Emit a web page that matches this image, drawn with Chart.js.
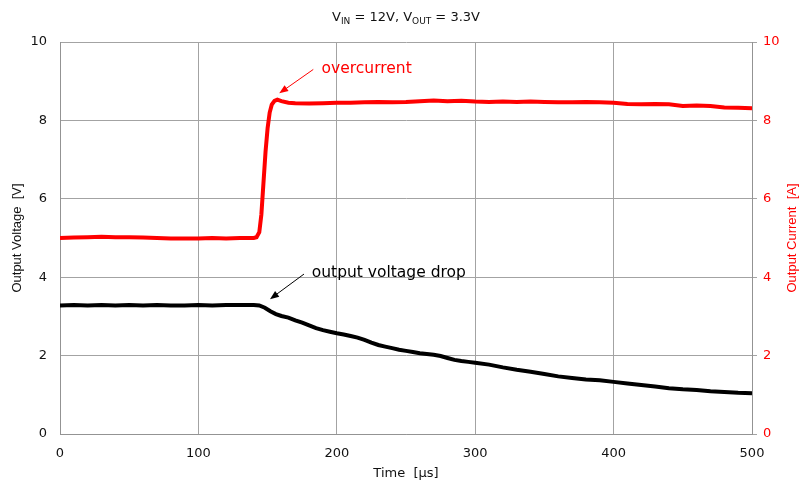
<!DOCTYPE html>
<html><head><meta charset="utf-8">
<script src="https://cdn.jsdelivr.net/npm/chart.js@4"></script>
<style>html,body{margin:0;padding:0;background:#fff}#wrap{width:799px;height:481px;position:relative}</style>
</head><body><div id="wrap"><canvas id="c"></canvas></div>
<script>
// ---- data ----
const timeV = [0,10,20,30,40,50,60,70,80,90,100,110,120,130,140,144,148,152,156,160,165,170,175,180,185,190,195,200,205,210,215,220,225,230,235,240,245,250,255,260,265,270,275,280,285,290,295,300,310,320,330,340,350,360,370,380,390,400,410,420,430,440,450,460,470,480,490,500];
const voltage = [3.28,3.29,3.28,3.29,3.28,3.29,3.28,3.29,3.28,3.28,3.29,3.28,3.29,3.29,3.29,3.28,3.22,3.13,3.06,3.01,2.97,2.90,2.84,2.77,2.70,2.65,2.61,2.57,2.54,2.50,2.46,2.40,2.33,2.27,2.23,2.19,2.15,2.12,2.09,2.06,2.04,2.02,1.99,1.94,1.89,1.86,1.84,1.82,1.77,1.70,1.64,1.59,1.53,1.47,1.43,1.39,1.37,1.33,1.29,1.25,1.21,1.17,1.14,1.12,1.09,1.07,1.05,1.04];
const timeI = [0,10,20,30,40,50,60,70,80,90,100,110,120,130,140,142,144,145.5,147,148.5,150,151.5,153,155,157,160,165,170,180,190,200,210,220,230,240,250,260,270,280,290,300,310,320,330,340,350,360,370,380,390,400,410,420,430,440,450,460,470,480,490,500];
const current = [5.00,5.01,5.02,5.03,5.02,5.02,5.01,5.00,4.99,4.99,4.99,5.00,4.99,5.00,5.00,5.02,5.15,5.6,6.4,7.2,7.8,8.2,8.4,8.5,8.53,8.49,8.45,8.44,8.43,8.44,8.45,8.45,8.46,8.47,8.46,8.47,8.49,8.51,8.49,8.50,8.48,8.47,8.48,8.47,8.48,8.47,8.46,8.46,8.47,8.46,8.45,8.42,8.41,8.42,8.41,8.37,8.38,8.37,8.33,8.32,8.31];
const xTicks = [0,100,200,300,400,500];
const yTicks = [0,2,4,6,8,10];
const titleParts = [["V",false],["IN",true],[" = 12V, V",false],["OUT",true],[" = 3.3V",false]];
const xLabel = "Time  [\u00b5s]";
const yLabel = "Output Voltage  [V]";
const y2Label = "Output Current  [A]";
// annotation anchors in data units
const notes = [
  {text:"overcurrent", color:"#ff0000", scale:"y2", tx:189, ty:9.20, from:[183,9.30], to:[158.4,8.69]},
  {text:"output voltage drop", color:"#000000", scale:"y", tx:181.9, ty:4.00, from:[176.3,4.08], to:[151.7,3.44]}
];

const GRID = '#a3a3a3';
const BORDER = '#939393';
Chart.defaults.font.family = "'DejaVu Sans', sans-serif";
Chart.defaults.font.size = 13;
Chart.defaults.color = '#111';

function arrow(ctx, x1, y1, x2, y2, color) {
  const ang = Math.atan2(y2 - y1, x2 - x1);
  const L = 9, W = 3.5;
  ctx.save();
  ctx.strokeStyle = color; ctx.fillStyle = color; ctx.lineWidth = 1;
  ctx.beginPath();
  ctx.moveTo(x1, y1);
  ctx.lineTo(x2 - Math.cos(ang) * L * 0.8, y2 - Math.sin(ang) * L * 0.8);
  ctx.stroke();
  ctx.beginPath();
  ctx.moveTo(x2, y2);
  ctx.lineTo(x2 - Math.cos(ang) * L - Math.sin(ang) * W, y2 - Math.sin(ang) * L + Math.cos(ang) * W);
  ctx.lineTo(x2 - Math.cos(ang) * L + Math.sin(ang) * W, y2 - Math.sin(ang) * L - Math.cos(ang) * W);
  ctx.closePath();
  ctx.fill();
  ctx.restore();
}

const overlay = {
  id: 'overlay',
  afterDraw(chart) {
    const ctx = chart.ctx;
    const xs = chart.scales.x;
    const ca = chart.chartArea;
    ctx.save();
    // title with subscripts
    const big = "13px 'DejaVu Sans'", small = "9px 'DejaVu Sans'";
    let total = 0;
    for (const [t, sub] of titleParts) { ctx.font = sub ? small : big; total += ctx.measureText(t).width; }
    let x = (ca.left + ca.right) / 2 - total / 2;
    ctx.fillStyle = '#111';
    ctx.textBaseline = 'alphabetic';
    ctx.textAlign = 'left';
    for (const [t, sub] of titleParts) {
      ctx.font = sub ? small : big;
      ctx.fillText(t, x, sub ? 23.5 : 20.7);
      x += ctx.measureText(t).width;
    }
    // right axis title, reading bottom-to-top like the left one
    const s2 = chart.scales.y2;
    ctx.save();
    ctx.translate(s2.right - 6.5, (ca.top + ca.bottom) / 2);
    ctx.rotate(-Math.PI / 2);
    ctx.font = "13px 'Liberation Sans', Arial, sans-serif";
    ctx.fillStyle = '#ff0000';
    ctx.textAlign = 'center';
    ctx.textBaseline = 'middle';
    ctx.fillText(y2Label, 0, 0);
    ctx.restore();
    // annotations
    ctx.textAlign = 'left';
    ctx.textBaseline = 'alphabetic';
    for (const n of notes) {
      const ys = chart.scales[n.scale];
      ctx.font = "15.5px 'DejaVu Sans'";
      ctx.fillStyle = n.color;
      ctx.fillText(n.text, xs.getPixelForValue(n.tx), ys.getPixelForValue(n.ty));
      arrow(ctx, xs.getPixelForValue(n.from[0]), ys.getPixelForValue(n.from[1]),
                 xs.getPixelForValue(n.to[0]), ys.getPixelForValue(n.to[1]), n.color);
    }
    ctx.restore();
  }
};

new Chart(document.getElementById('c'), {
  type: 'line',
  data: {
    datasets: [
      {label: 'Current', data: timeI.map((t, i) => ({x: t, y: current[i]})), yAxisID: 'y2',
       borderColor: '#ff0000', borderWidth: 4, pointRadius: 0, tension: 0, fill: false},
      {label: 'Voltage', data: timeV.map((t, i) => ({x: t, y: voltage[i]})), yAxisID: 'y',
       borderColor: '#000000', borderWidth: 4, pointRadius: 0, tension: 0, fill: false}
    ]
  },
  options: {
    responsive: true, maintainAspectRatio: false, animation: false,
    layout: {padding: {top: 42, left: 0, right: 0, bottom: 0}},
    plugins: {legend: {display: false}, tooltip: {enabled: false}, title: {display: false}},
    scales: {
      x: {
        type: 'linear', min: 0, max: 500,
        afterBuildTicks: s => { s.ticks = xTicks.map(v => ({value: v})); },
        afterFit: s => { s.height = 47; },
        grid: {color: GRID, drawTicks: false},
        border: {color: BORDER},
        ticks: {padding: 12, maxRotation: 0, font: {size: 13}},
        title: {display: true, text: xLabel, font: {size: 13, lineHeight: 1}, padding: {top: 0, bottom: 1}}
      },
      y: {
        type: 'linear', position: 'left', min: 0, max: 10,
        afterBuildTicks: s => { s.ticks = yTicks.map(v => ({value: v})); },
        afterFit: s => { s.width = 60; },
        grid: {color: GRID, drawTicks: false},
        border: {color: BORDER},
        ticks: {padding: 13, font: {size: 13}},
        title: {display: true, text: yLabel, font: {family: "'Liberation Sans', Arial, sans-serif", size: 13, lineHeight: 1}, padding: {top: 11, bottom: 0}}
      },
      y2: {
        type: 'linear', position: 'right', min: 0, max: 10,
        afterBuildTicks: s => { s.ticks = yTicks.map(v => ({value: v})); },
        afterFit: s => { s.width = 47; },
        grid: {drawOnChartArea: false, drawTicks: true, tickLength: 5, color: GRID},
        border: {color: BORDER},
        ticks: {padding: 6, color: '#ff0000', font: {size: 13}},
        title: {display: false}
      }
    }
  },
  plugins: [overlay]
});
</script>
</body></html>
